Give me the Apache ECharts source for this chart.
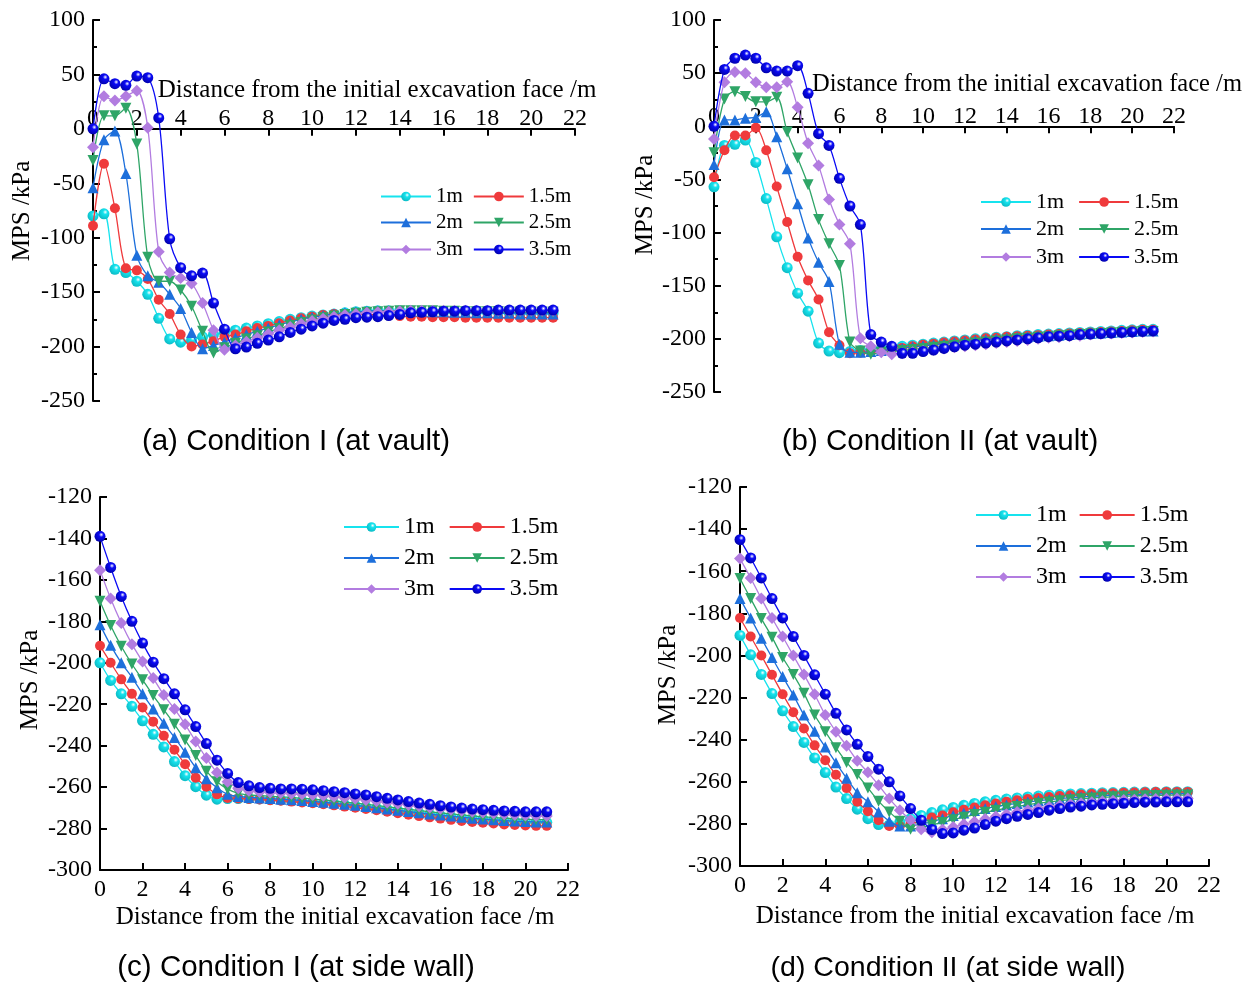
<!DOCTYPE html>
<html><head><meta charset="utf-8">
<script src="https://cdn.jsdelivr.net/npm/echarts@6/dist/echarts.min.js"></script>
<style>html,body{margin:0;padding:0;background:#fff}#c{width:1251px;height:982px}</style>
</head><body><div id="c"></div>
<script>
// sampling positions (m)
const xs = [0,0.5,1,1.5,2,2.5,3,3.5,4,4.5,5,5.5,6,6.5,7,7.5,8,8.5,9,9.5,10,10.5,11,11.5,12,12.5,13,13.5,14,14.5,15,15.5,16,16.5,17,17.5,18,18.5,19,19.5,20,20.5,21];
const seriesNames = ['1m','1.5m','2m','2.5m','3m','3.5m'];
const xTicks = [0,2,4,6,8,10,12,14,16,18,20,22];

// (a) Condition I at vault
const a_1m  = [-80,-78,-129,-132,-140,-152,-174,-193,-196,-194,-191,-189,-187,-185,-183,-181,-179,-177,-175,-173.5,-172,-171,-170,-169,-168,-167.5,-167,-167,-167,-167,-167.5,-167.5,-168,-168,-168,-168.5,-168.5,-168.5,-169,-169,-169,-169,-169];
const a_15m = [-89,-32,-73,-128,-130,-138,-157,-170,-189,-200,-198,-195,-191,-189,-186,-183,-181,-178.5,-176,-174,-172.5,-171,-170,-170,-170,-170.5,-171,-171.5,-172,-172.5,-172.5,-173,-173,-173,-173.5,-173.5,-173.5,-173.5,-173.5,-173.5,-173.5,-173.5,-173.5];
const a_2m  = [-54,-10,-2,-41,-116,-135,-141,-152,-165,-187,-202,-199,-196,-192,-189,-186,-183,-180,-177.5,-175,-173,-171.5,-170,-169,-168,-167.5,-167,-167,-167,-167.5,-167.5,-168,-168,-168.5,-168.5,-169,-169,-169.5,-169.5,-170,-170,-170,-170];
const a_25m = [-29,12,12,19,-14,-118,-140,-140,-148,-163,-186,-206,-201,-197,-193,-190,-186.5,-183.5,-180.5,-178,-175.5,-173.5,-172,-170.5,-169.5,-168.5,-168,-167.5,-167,-167,-167,-167,-167.5,-167.5,-168,-168,-168,-168,-168.5,-168.5,-168.5,-168.5,-168.5];
const a_3m  = [-17,30,26,30,35,1,-113,-132,-137,-142,-160,-185,-203,-199,-195.5,-192,-188.5,-185,-182,-179,-176.5,-174.5,-172.5,-171,-170,-169,-168.5,-168,-167.5,-167,-167,-167,-167,-167,-167,-167,-167,-167,-167,-167,-167,-167,-167];
const a_35m = [0,46,41.5,40,48.5,47,10,-101,-127.5,-135,-132.5,-160,-184,-202,-200.5,-197,-194,-191,-187,-184,-181,-178.5,-176,-175,-173.5,-173,-172.5,-171.5,-170.5,-169,-168.5,-168,-167.5,-167.5,-167,-167,-167,-166.5,-166.5,-166.5,-166.5,-166.5,-166.5];

// (b) Condition II at vault
const b_1m  = [-57,-18,-17,-13,-34,-68,-104,-133,-157,-174,-204,-211.5,-213,-212,-211,-210,-209,-208,-207,-206,-205,-204,-203,-202,-201,-200,-199,-198.5,-198,-197,-196.5,-196,-195.5,-195,-194.5,-194,-193.5,-193,-192.5,-192,-191.5,-191,-191];
const b_15m = [-48,-22.5,-8.6,-8.6,-1.3,-22.5,-56.7,-90,-122.7,-145,-163,-193.7,-206,-213.6,-213,-212,-211,-210,-208.5,-207,-205.5,-204.5,-203.5,-202.5,-201.5,-200.5,-199.5,-199,-198,-197.5,-197,-196.5,-196,-195.5,-195,-194.5,-194,-193.5,-193,-192.5,-192,-191.5,-191.5];
const b_2m  = [-36,6,6,7.6,8.3,13.6,-9.8,-40,-73,-105,-128,-146,-205,-212.7,-212.7,-212,-211,-210,-209,-207.5,-206.5,-205.5,-204.5,-203.5,-202.5,-201.5,-200.5,-200,-199,-198.5,-198,-197.5,-197,-196.5,-196,-195.5,-195,-194.5,-194,-193.5,-193,-192.5,-192.5];
const b_25m = [-25,25.7,32.6,28,23,23,27.3,-5.4,-29.8,-55,-87.8,-110.6,-131,-203,-211.5,-214.6,-212.7,-212,-211,-210,-209,-208,-207,-206,-205,-204,-203,-202,-201,-200,-199.5,-198.5,-198,-197,-196.5,-196,-195.5,-195,-194.5,-194,-193.5,-193,-193];
const b_3m  = [-12,41.5,51,50,41.5,36.8,36.8,42,17.8,-16,-37,-68.8,-92.5,-110.6,-199.4,-207,-212.7,-214.6,-213.5,-212.5,-211.5,-210.5,-209,-208,-207,-206,-205,-204,-203,-202,-201,-200,-199,-198.5,-197.5,-197,-196,-195.5,-195,-194.5,-194,-193.5,-193];
const b_35m = [0,53.5,64,67,64,55,52,52,57,31,-7,-18,-49,-75,-92.5,-196,-203,-207,-213.6,-213.6,-212,-210.5,-209,-207.5,-206,-205,-204,-203,-202,-201,-200,-199,-198,-197.5,-197,-196,-195.5,-195,-194.5,-194,-193.5,-193,-192.5];

// (c) Condition I at side wall
const c_1m  = [-200,-208.5,-215,-221,-228,-234.5,-240.6,-247.7,-254.5,-259.8,-263.9,-265.8,-265.5,-265.5,-265.5,-265.7,-266,-266.2,-266.5,-266.8,-267.2,-267.6,-268,-268.5,-269,-269.6,-270.2,-270.8,-271.4,-272,-272.6,-273.2,-273.8,-274.3,-274.8,-275.2,-275.6,-276,-276.3,-276.6,-276.8,-277,-277];
const c_15m = [-191.8,-200,-208,-215,-221.6,-228.4,-235.2,-242,-249,-255.5,-259.8,-263.5,-265.2,-265.5,-265.7,-266,-266.3,-266.6,-267,-267.4,-267.8,-268.3,-268.8,-269.4,-270,-270.6,-271.2,-271.9,-272.6,-273.3,-274,-274.6,-275.2,-275.8,-276.3,-276.8,-277.2,-277.6,-278,-278.3,-278.5,-278.7,-278.7];
const c_2m  = [-181.6,-191.6,-200,-207,-215,-222.3,-229.2,-236,-243.2,-250.6,-256,-260.3,-263.5,-264.5,-265,-265.2,-265.5,-265.8,-266.1,-266.5,-266.9,-267.3,-267.8,-268.3,-268.8,-269.4,-270,-270.6,-271.2,-271.8,-272.4,-273,-273.5,-274,-274.5,-275,-275.4,-275.8,-276.1,-276.4,-276.6,-276.8,-276.8];
const c_25m = [-170.3,-182,-192,-200.6,-208.2,-215.8,-222.7,-229.7,-237.3,-244.8,-252.3,-257.4,-261,-263,-263.8,-264.1,-264.4,-264.7,-265,-265.4,-265.8,-266.2,-266.7,-267.2,-267.7,-268.3,-268.9,-269.5,-270.1,-270.7,-271.3,-271.9,-272.4,-272.9,-273.4,-273.9,-274.3,-274.7,-275,-275.3,-275.5,-275.7,-275.7];
const c_3m  = [-155.3,-169,-180.8,-191,-199.4,-207.4,-215.5,-222.3,-229.7,-238,-246,-252.9,-257.4,-260.5,-261.8,-262.3,-262.6,-262.9,-263.2,-263.5,-263.8,-264.2,-264.6,-265.1,-265.6,-266.2,-266.8,-267.4,-268,-268.6,-269.2,-269.8,-270.4,-270.9,-271.4,-271.9,-272.3,-272.7,-273.1,-273.4,-273.7,-273.9,-274];
const c_35m = [-139,-154,-168,-180,-190.5,-199.7,-207.7,-215,-222.7,-230.8,-239,-247,-253.4,-257.8,-259.4,-260.2,-260.6,-260.9,-260.9,-261,-261.3,-261.7,-262.2,-262.7,-263.3,-263.8,-264.6,-265.4,-266.2,-267,-267.7,-268.3,-269,-269.6,-270.1,-270.6,-270.9,-271.2,-271.5,-271.7,-271.9,-271.9,-271.9];

// (d) Condition II at side wall
const d_1m  = [-190.5,-199.7,-209,-218.1,-226.3,-233.8,-241.3,-248.7,-255.6,-262.5,-268,-273,-277.5,-280.3,-280.5,-279,-277.5,-276,-274.6,-273.3,-272.2,-271.2,-270.3,-269.5,-268.8,-268.2,-267.7,-267.2,-266.8,-266.4,-266.1,-265.8,-265.6,-265.4,-265.2,-265.1,-265,-264.9,-264.8,-264.8,-264.7,-264.7,-264.7];
const d_15m = [-182.2,-191,-200,-209.2,-218.4,-227,-234.7,-242.7,-249.8,-256.7,-263,-269.5,-274,-278.3,-281,-281,-280,-278.5,-277,-276,-274.5,-273.3,-272.2,-271.2,-270.3,-269.5,-268.8,-268.2,-267.7,-267.2,-266.8,-266.4,-266.1,-265.8,-265.6,-265.4,-265.2,-265.1,-265,-264.9,-264.8,-264.8,-264.8];
const d_2m  = [-173,-182.2,-191.8,-201,-210,-218.8,-228.3,-236,-243.5,-251,-258.3,-265.2,-269.5,-274.3,-278.7,-281,-281,-280,-279,-277.5,-276,-274.8,-273.7,-272.7,-271.8,-271,-270.3,-269.6,-269,-268.5,-268,-267.6,-267.2,-266.9,-266.6,-266.4,-266.2,-266,-265.9,-265.8,-265.7,-265.6,-265.6];
const d_25m = [-163.5,-173,-182.5,-191.3,-201,-209,-218,-228.3,-236.2,-243.8,-250.8,-256.6,-262.9,-269.2,-274.3,-278.7,-282.5,-281.7,-280.5,-279.3,-278,-276.8,-275.6,-274.5,-273.5,-272.5,-271.7,-270.9,-270.2,-269.6,-269,-268.5,-268.1,-267.7,-267.4,-267.1,-266.9,-266.7,-266.6,-266.5,-266.4,-266.3,-266.3];
const d_3m  = [-154,-163.2,-173,-182.2,-191,-200,-209,-218.4,-228.3,-236.2,-242.9,-250,-255.5,-261.6,-268,-273.5,-278.2,-282.5,-284,-282.7,-281.5,-280.2,-279,-277.7,-276.5,-275.4,-274.4,-273.5,-272.7,-272,-271.3,-270.7,-270.2,-269.7,-269.3,-269,-268.7,-268.5,-268.3,-268.2,-268.1,-268,-268];
const d_35m = [-145,-153.7,-163.2,-173,-182.2,-191,-200,-209.2,-218.4,-227.5,-235.4,-242.2,-248,-254,-260,-266.7,-272.7,-278.3,-282.7,-284.6,-284.3,-283,-282,-280.3,-278.7,-277.5,-276.4,-275.5,-274.6,-273.5,-272.7,-272,-271.6,-271,-270.7,-270.4,-270.2,-269.9,-269.7,-269.6,-269.5,-269.5,-269.5];

const titles = ['(a) Condition I (at vault)','(b) Condition II (at vault)','(c) Condition I (at side wall)','(d) Condition II (at side wall)'];
const xName = 'Distance from the initial excavation face /m';
const yName = 'MPS /kPa';

const panelData = [
  [a_1m,a_15m,a_2m,a_25m,a_3m,a_35m],
  [b_1m,b_15m,b_2m,b_25m,b_3m,b_35m],
  [c_1m,c_15m,c_2m,c_25m,c_3m,c_35m],
  [d_1m,d_15m,d_2m,d_25m,d_3m,d_35m]
];

// ---- styling / layout ----
const SERIF = '"Liberation Serif", "Times New Roman", serif';
const SANS = '"Liberation Sans", Arial, sans-serif';
function ball(c, dark){
  return {type:'radial', x:0.62, y:0.35, r:0.7, colorStops:[{offset:0,color:'#ffffff'},{offset:0.3,color:c},{offset:1,color:dark}]};
}
const sty = [
  {color:'#16E3EE', fill: ball('#16E3EE','#0bb8c2'), symbol:'circle', size:11},
  {color:'#EF3A3C', fill:'#EF3A3C', symbol:'circle', size:10},
  {color:'#1D6FDB', fill:'#1D6FDB', symbol:'triangle', size:11},
  {color:'#2FA567', fill:'#2FA567', symbol:'path://M0,0L10,0L5,9Z', size:11},
  {color:'#B27CE0', fill:'#B27CE0', symbol:'diamond', size:12},
  {color:'#0A0AF5', fill: ball('#0A0AF5','#0000a8'), symbol:'circle', size:11}
];
const panels = [
  {grid:{left:93,top:20,width:482,height:381}, ymin:-250,ymax:100,yint:50, top:true, minor:true,
   lg:{left:380, rows:[197,223,250], fs:21, iw:50, gap:10},
   xname:{x:377,y:90,fs:25}, yname:{x:22,y:211}, title:{x:296,y:442,fs:29.5}},
  {grid:{left:714,top:20,width:460,height:372}, ymin:-250,ymax:100,yint:50, top:true, minor:true,
   lg:{left:980, rows:[202,229,257], fs:22, iw:50, gap:14},
   xname:{x:1027,y:85,fs:24.5}, yname:{x:645,y:205}, title:{x:940,y:442,fs:29.5}},
  {grid:{left:100,top:497,width:468,height:373}, ymin:-300,ymax:-120,yint:20, top:false, minor:false,
   lg:{left:343, rows:[527,558,589], fs:24, iw:55, gap:14},
   xname:{x:335,y:917,fs:25}, yname:{x:30,y:680}, title:{x:296,y:968,fs:29.5}},
  {grid:{left:740,top:487,width:469,height:379}, ymin:-300,ymax:-120,yint:20, top:false, minor:false,
   lg:{left:975, rows:[515,546,577], fs:24, iw:55, gap:12},
   xname:{x:975,y:916,fs:25}, yname:{x:668,y:675}, title:{x:948,y:968,fs:28.5}}
];

const grids=[], xAxes=[], yAxes=[], series=[], legends=[], graphics=[];
panels.forEach((p,i)=>{
  grids.push(Object.assign({containLabel:false}, p.grid));
  // for vault panels the x axis sits at y = 0
  const zeroOffset = p.top ? -(p.grid.height * p.ymax / (p.ymax - p.ymin)) : 0;
  xAxes.push({
    type:'value', gridIndex:i, min:0, max:22, interval:2,
    position: p.top ? 'top' : 'bottom', offset: zeroOffset,
    axisLine:{show:true, onZero:false, lineStyle:{color:'#000', width:2}},
    axisTick:{show:true, inside:true, length:7, lineStyle:{color:'#000', width:2}},
    axisLabel:{margin:p.top?-2:8, fontFamily:SERIF, fontSize:24, color:'#000',
      formatter:v=> xTicks.indexOf(v)>=0 ? String(v) : ''},
    splitLine:{show:false}
  });
  yAxes.push({
    type:'value', gridIndex:i, min:p.ymin, max:p.ymax, interval:p.yint,
    axisLine:{show:true, onZero:false, lineStyle:{color:'#000', width:2}},
    axisTick:{show:true, inside:true, length:7, lineStyle:{color:'#000', width:2}},
    minorTick:{show:p.minor, splitNumber:2, length:4, lineStyle:{color:'#000', width:2}},
    axisLabel:{margin:8, fontFamily:SERIF, fontSize:24, color:'#000'},
    splitLine:{show:false}
  });
  panelData[i].forEach((vals,k)=>{
    const s = sty[k];
    const n = Math.min(xs.length, vals.length);
    const data = [];
    for(let j=0;j<n;j++) data.push([xs[j], vals[j]]);
    series.push({
      type:'line', name:seriesNames[k], xAxisIndex:i, yAxisIndex:i, data,
      smooth:0.3, symbol:s.symbol, symbolSize:s.size, showSymbol:true,
      color:s.color,
      lineStyle:{color:s.color, width:1.3},
      itemStyle:{color:s.fill, borderWidth:0},
      animation:false, z:2+k
    });
  });
  for(let r=0;r<3;r++){
    legends.push({
      show:true, orient:'horizontal', left:p.lg.left, top:p.lg.rows[r]-Math.round(p.lg.fs/2),
      padding:0, itemGap:p.lg.gap, itemWidth:p.lg.iw, itemHeight:12,
      data:[seriesNames[2*r], seriesNames[2*r+1]],
      textStyle:{fontFamily:SERIF, fontSize:p.lg.fs, color:'#000'},
      selectedMode:false
    });
  }
  graphics.push({type:'text', x:p.xname.x, y:p.xname.y, style:{text:xName, font:p.xname.fs+'px '+SERIF, fill:'#000', align:'center', verticalAlign:'middle', textAlign:'center', textVerticalAlign:'middle'}});
  graphics.push({type:'text', x:p.yname.x, y:p.yname.y, rotation:Math.PI/2, style:{text:yName, font:'25px '+SERIF, fill:'#000', align:'center', verticalAlign:'middle', textAlign:'center', textVerticalAlign:'middle'}});
  graphics.push({type:'text', x:p.title.x, y:p.title.y, style:{text:titles[i], font:p.title.fs+'px '+SANS, fill:'#000', align:'center', verticalAlign:'middle', textAlign:'center', textVerticalAlign:'middle'}});
});

const chart = echarts.init(document.getElementById('c'), null, {renderer:'canvas'});
chart.setOption({
  backgroundColor:'#fff', animation:false,
  grid:grids, xAxis:xAxes, yAxis:yAxes, series, legend:legends, graphic:graphics
});
</script></body></html>
